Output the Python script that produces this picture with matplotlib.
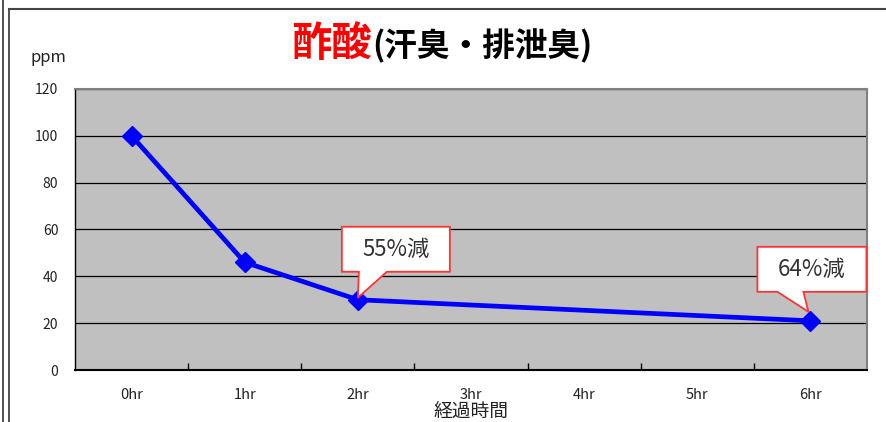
import matplotlib
matplotlib.use("Agg")
import matplotlib.pyplot as plt
from matplotlib.patches import Polygon
from matplotlib.lines import Line2D
from matplotlib.ticker import FixedLocator
import matplotlib.transforms as mtransforms

plt.rcParams['font.family'] = ['Noto Sans CJK JP', 'DejaVu Sans']

categories = ['0hr', '1hr', '2hr', '3hr', '4hr', '5hr', '6hr']
hours = [0, 1, 2, 6]
ppm = [100, 46, 30, 21]
yticks = [0, 20, 40, 60, 80, 100, 120]
callout_hours = [2, 6]
callout_values = [30, 21]
callout_texts = ['55%減', '64%減']

W, H = 887, 422
fig = plt.figure(figsize=(W / 100, H / 100), dpi=100)
fig.patch.set_facecolor('white')

L, R, T, B = 75, 867, 89, 370
ax = fig.add_axes([L / W, 1 - B / H, (R - L) / W, (B - T) / H])
ax.set_facecolor('#C0C0C0')

ax.plot(hours, ppm, color='#0000FF', lw=3.4, marker='D', ms=10,
        markerfacecolor='#0000FF', markeredgecolor='#0000FF', zorder=5,
        solid_joinstyle='round')

ax.set_xlim(-0.5, 6.5)
ax.set_ylim(0, 120)
ax.set_yticks(yticks)
ax.yaxis.grid(True, color='black', lw=0.9)
ax.set_axisbelow(True)

ax.set_xticks(range(len(categories)))
ax.set_xticklabels(categories)
ax.xaxis.set_minor_locator(FixedLocator([i + 0.5 for i in range(len(categories) - 1)]))
ax.tick_params(axis='x', which='major', length=0, pad=13, labelsize=10.5, labelcolor='#222222')
ax.tick_params(axis='x', which='minor', direction='in', length=5, width=1, color='black')
ax.tick_params(axis='y', length=0, pad=12, labelsize=10, labelcolor='#222222')

for s in ['top', 'right']:
    ax.spines[s].set_color('#808080')
    ax.spines[s].set_linewidth(1.5)
ax.spines['left'].set_color('black')
ax.spines['left'].set_linewidth(1.0)
ax.spines['bottom'].set_color('black')
ax.spines['bottom'].set_linewidth(1.5)

ax.set_xlabel('経過時間', fontsize=13.5, color='#222222', labelpad=0)

# title
fig.text(372 / W, 1 - 44 / H, '酢酸', color='#FF0000', fontsize=29, fontweight='bold',
         ha='right', va='center')
fig.text(372 / W, 1 - 46 / H, '(汗臭・排泄臭)', color='black', fontsize=23.5, fontweight='bold',
         ha='left', va='center')
fig.text(48 / W, 1 - 57 / H, 'ppm', color='#222222', fontsize=12, ha='center', va='center')

# frame lines
fig.add_artist(Line2D([3 / W, 3 / W], [0, 1], color='#333333', lw=1.2, transform=fig.transFigure))
fig.add_artist(Line2D([9 / W, 9 / W], [0, 1 - 9 / H], color='#333333', lw=1.2, transform=fig.transFigure))
fig.add_artist(Line2D([9 / W, 1], [1 - 9 / H, 1 - 9 / H], color='#444444', lw=1.5, transform=fig.transFigure))

# callouts: shapes in pixel offsets relative to the data point (y up)
shapes = [
    dict(box=(-16, 92, 28, 73), base=(1, 29), tip=(0, 2)),
    dict(box=(-53, 56, 29, 74), base=(-33, -7), tip=(-2, 9)),
]
fig.canvas.draw()
for h, v, txt, sh in zip(callout_hours, callout_values, callout_texts, shapes):
    px, py = ax.transData.transform((h, v))
    l, r, b, t = sh['box']
    b0, b1 = sh['base']
    tx, ty = sh['tip']
    verts = [(l, b), (b0, b), (tx, ty), (b1, b), (r, b), (r, t), (l, t)]
    tr = mtransforms.Affine2D().translate(px, py)
    poly = Polygon(verts, closed=True, facecolor='white', edgecolor='#FF3333', lw=1.3,
                   transform=tr, zorder=6)
    poly.set_clip_on(False)
    fig.add_artist(poly)
    cx, cy = (l + r) / 2, (b + t) / 2
    fig.text((px + cx) / W, (py + cy) / H, txt, fontsize=16, color='#333333',
             ha='center', va='center', zorder=7)

fig.savefig('out.png', dpi=100)
